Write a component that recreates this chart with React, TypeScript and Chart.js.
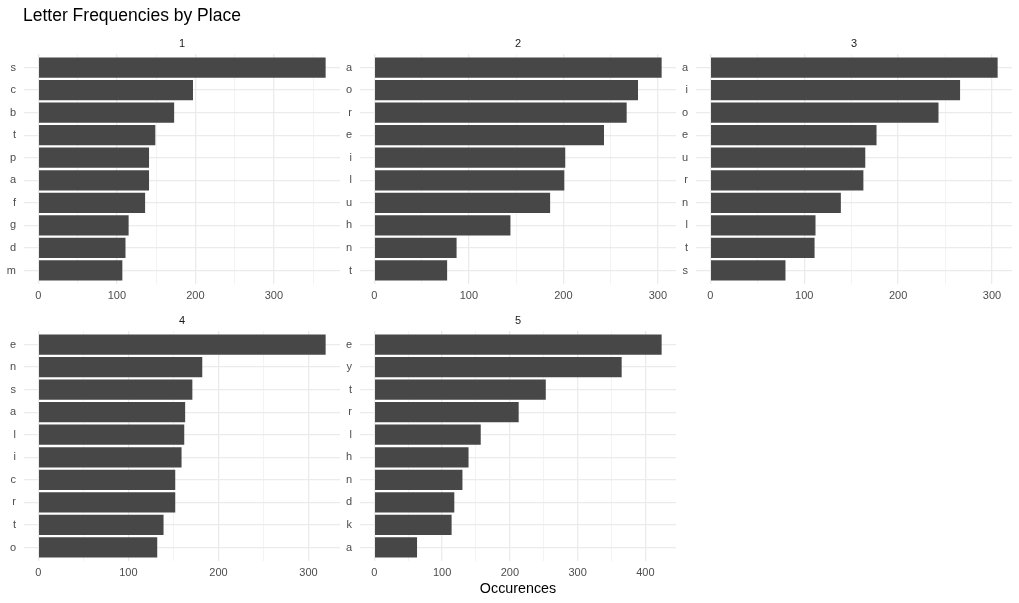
import React, { useEffect, useRef } from "react";
import { Chart, registerables } from "chart.js";

Chart.register(...registerables);

const chartTitle = "Letter Frequencies by Place";
const xAxisTitle = "Occurences";
const panelNames = ["1", "2", "3", "4", "5"];

const place1Letters = ["s", "c", "b", "t", "p", "a", "f", "g", "d", "m"];
const place1Counts = [366, 197, 173, 149, 141, 141, 136, 115, 111, 107];

const place2Letters = ["a", "o", "r", "e", "i", "l", "u", "h", "n", "t"];
const place2Counts = [304, 279, 267, 243, 202, 201, 186, 144, 87, 77];

const place3Letters = ["a", "i", "o", "e", "u", "r", "n", "l", "t", "s"];
const place3Counts = [306, 266, 243, 177, 165, 163, 139, 112, 111, 80];

const place4Letters = ["e", "n", "s", "a", "l", "i", "c", "r", "t", "o"];
const place4Counts = [319, 182, 171, 163, 162, 159, 152, 152, 139, 132];

const place5Letters = ["e", "y", "t", "r", "l", "h", "n", "d", "k", "a"];
const place5Counts = [424, 365, 253, 213, 157, 139, 130, 118, 114, 63];

const FONT = "'Liberation Sans', Arial, Helvetica, sans-serif";
const BAR = "#474747";
const GRID = "#EBEBEB";
const TICK = "#4D4D4D";

const CANVAS_W = 340;
const CANVAS_H = 326;

type PanelProps = {
  letters: string[];
  counts: number[];
  name: string;
  left: number;
  top: number;
  showTitle?: boolean;
  showXTitle?: boolean;
};

function Panel({ letters, counts, name, left, top, showTitle, showXTitle }: PanelProps) {
  const ref = useRef<HTMLCanvasElement | null>(null);

  useEffect(() => {
    if (!ref.current) return;
    const maxVal = Math.max(...counts);
    const n = letters.length;

    const stripPlugin = {
      id: "stripLabel",
      afterDraw(chart: any) {
        const { ctx, chartArea } = chart;
        ctx.save();
        ctx.font = `11px ${FONT}`;
        ctx.fillStyle = "#1A1A1A";
        ctx.textAlign = "center";
        ctx.textBaseline = "alphabetic";
        ctx.fillText(name, (chartArea.left + chartArea.right) / 2, chartArea.top - 7);
        if (showTitle) {
          ctx.font = `17.5px ${FONT}`;
          ctx.fillStyle = "#000000";
          ctx.textAlign = "left";
          ctx.fillText(chartTitle, 23, 21);
        }
        ctx.restore();
      },
    };

    const chart = new Chart(ref.current, {
      type: "bar",
      data: {
        datasets: [
          {
            data: counts.map((c, i) => ({ x: c, y: i })),
            backgroundColor: BAR,
            borderWidth: 0,
            barPercentage: 0.9,
            categoryPercentage: 1,
          },
        ],
      },
      options: {
        indexAxis: "y",
        animation: false,
        responsive: false,
        maintainAspectRatio: false,
        layout: { padding: { top: 54, left: 0, right: 0, bottom: 0 } },
        plugins: {
          legend: { display: false },
          tooltip: { enabled: false },
          title: { display: false },
        },
        scales: {
          x: {
            type: "linear",
            offset: false,
            min: -0.05 * maxVal,
            max: 1.05 * maxVal,
            afterBuildTicks: (scale: any) => {
              const t: { value: number }[] = [];
              for (let v = 0; v <= scale.max; v += 50) t.push({ value: v });
              scale.ticks = t;
            },
            afterFit: (scale: any) => {
              scale.height = 42;
            },
            grid: {
              offset: false,
              color: GRID,
              lineWidth: (ctx: any) => (ctx.tick && ctx.tick.value % 100 === 0 ? 1.3 : 0.6),
              drawTicks: false,
            },
            border: { display: false },
            ticks: {
              autoSkip: false,
              maxRotation: 0,
              padding: 5,
              color: TICK,
              font: { family: FONT, size: 11 },
              callback: (v: any) => (Number(v) % 100 === 0 ? String(v) : ""),
            },
            title: {
              display: !!showXTitle,
              text: xAxisTitle,
              color: "#000000",
              font: { family: FONT, size: 14.3 },
              padding: { top: 0, bottom: 5 },
            },
          },
          y: {
            type: "linear",
            offset: false,
            reverse: true,
            min: -0.6,
            max: n - 1 + 0.6,
            afterBuildTicks: (scale: any) => {
              scale.ticks = letters.map((_, i) => ({ value: i }));
            },
            afterFit: (scale: any) => {
              scale.width = 24;
            },
            grid: { offset: false, color: GRID, lineWidth: 1.3, drawTicks: false },
            border: { display: false },
            ticks: {
              autoSkip: false,
              padding: 8,
              color: TICK,
              font: { family: FONT, size: 11 },
              callback: (v: any) => letters[Number(v)] ?? "",
            },
          },
        },
      },
      plugins: [stripPlugin],
    } as any);

    return () => chart.destroy();
  }, [letters, counts, name, showTitle, showXTitle]);

  return (
    <canvas
      ref={ref}
      width={CANVAS_W}
      height={CANVAS_H}
      style={{ position: "absolute", left, top, width: CANVAS_W, height: CANVAS_H }}
    />
  );
}

export default function App() {
  return (
    <div
      style={{
        position: "fixed",
        left: 0,
        top: 0,
        width: 1019,
        height: 603,
        background: "#ffffff",
        overflow: "hidden",
      }}
    >
      <Panel letters={place1Letters} counts={place1Counts} name={panelNames[0]} left={0} top={0} showTitle />
      <Panel letters={place2Letters} counts={place2Counts} name={panelNames[1]} left={336} top={0} />
      <Panel letters={place3Letters} counts={place3Counts} name={panelNames[2]} left={672} top={0} />
      <Panel letters={place4Letters} counts={place4Counts} name={panelNames[3]} left={0} top={277} />
      <Panel letters={place5Letters} counts={place5Counts} name={panelNames[4]} left={336} top={277} showXTitle />
    </div>
  );
}
